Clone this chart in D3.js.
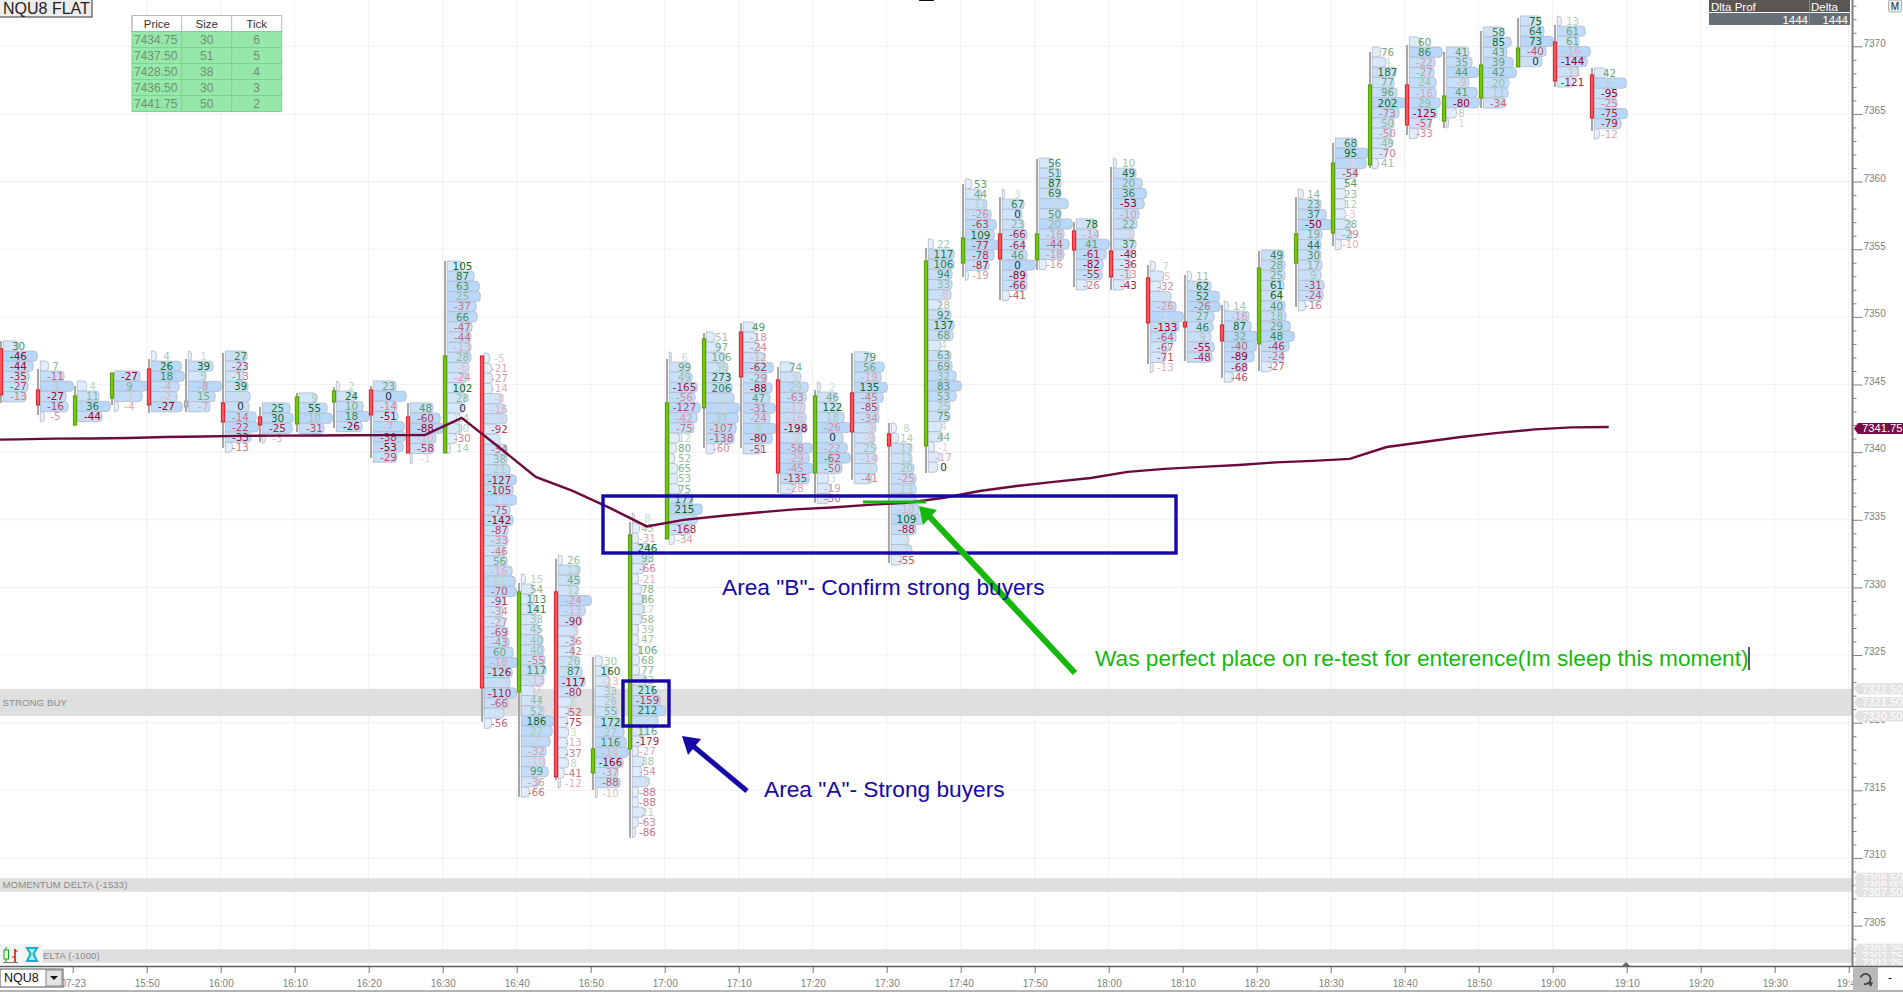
<!DOCTYPE html>
<html>
<head>
<meta charset="utf-8">
<title>NQU8 FLAT</title>
<script src="https://cdn.jsdelivr.net/npm/d3@7"></script>
<style>
html, body { margin: 0; padding: 0; background: #fff; overflow: hidden; }
svg { display: block; }
text { font-family: "Liberation Sans", Arial, sans-serif; }
</style>
</head>
<body>
<div id="chart"></div>
<script>
// price of the top edge of each bar's profile, one per 5 minute bar from 15:30
var profileTop = [7348.22,7346.74,7345.26,7346.0,7347.48,7347.48,7347.48,7343.64,7344.38,7345.26,7345.26,7343.64,7354.13,7347.33,7331.0,7332.4,7324.94,7335.51,7347.41,7348.88,7349.62,7346.67,7345.19,7347.41,7342.16,7355.76,7360.19,7359.45,7361.74,7357.24,7361.74,7354.13,7353.39,7351.18,7354.94,7359.45,7363.22,7369.95,7370.69,7369.95,7371.43,7372.24,7372.24,7368.4];

var opens  = [7347.63,7344.6,7342.0,7344.0,7346.15,7343.78,7343.64,7342.6,7342.08,7343.71,7344.6,7342.6,7339.94,7347.11,7322.28,7329.67,7316.29,7318.06,7333.58,7343.27,7348.88,7345.34,7338.46,7344.38,7341.35,7340.46,7353.98,7356.13,7354.21,7356.35,7354.87,7352.88,7349.62,7349.4,7348.0,7353.98,7356.2,7361.23,7367.14,7364.48,7366.18,7368.47,7370.32,7367.88];
var closes = [7344.23,7343.49,7344.15,7345.85,7343.49,7343.34,7342.23,7342.01,7344.08,7344.52,7342.75,7339.94,7347.11,7322.57,7329.67,7315.99,7318.06,7333.88,7343.64,7348.37,7345.56,7338.46,7344.15,7341.49,7340.46,7354.13,7355.83,7354.28,7356.13,7354.94,7352.95,7349.55,7349.25,7348.22,7353.61,7356.13,7361.37,7367.14,7364.18,7366.33,7368.62,7369.87,7367.44,7364.7];
var highs  = [7348.22,7346.15,7344.89,7345.85,7346.89,7346.89,7347.33,7343.34,7344.38,7344.82,7344.89,7343.64,7354.13,7347.11,7330.33,7332.11,7324.86,7334.84,7346.89,7348.81,7349.55,7346.3,7344.6,7347.33,7342.16,7355.09,7359.82,7358.86,7361.67,7357.01,7361.08,7353.84,7353.1,7350.88,7354.87,7358.86,7362.85,7369.58,7370.1,7369.58,7371.13,7372.09,7371.57,7368.4];
var lows   = [7343.64,7342.75,7342.23,7343.49,7342.9,7342.97,7340.31,7340.75,7341.49,7341.79,7339.57,7339.94,7339.94,7320.06,7314.52,7315.77,7315.03,7311.49,7333.58,7340.31,7340.31,7336.98,7336.25,7337.95,7331.81,7338.46,7352.95,7351.25,7353.47,7352.21,7351.99,7346.52,7346.74,7345.48,7346.0,7350.73,7355.24,7361.01,7363.44,7363.96,7365.44,7368.47,7366.99,7363.74];

// bid/ask delta per row, top row first
var deltas = [
  [30,-46,-44,-35,-27,-13],
  [7,-11,3,-27,-16,-5],
  [4,11,36,-44],
  [-27,9,-1,-4],
  [4,26,18,-4,-2,-27],
  [1,39,5,-8,15,-7],
  [27,-23,-13,39,1,0,-14,-22,-33,-13],
  [25,30,-25,-3],
  [9,55,10,-31],
  [2,24,10,18,-26],
  [23,0,-14,-51,-7,-38,-53,-29],
  [48,-60,-88,-10,-58,-1],
  [105,87,63,25,-37,66,-47,-44,-13,28,-6,-24,102,28,0,14,10,-30,14],
  [-5,-21,-27,-14,-8,-16,-3,-92,1,-54,38,21,-127,-105,1,-75,-142,-87,-33,-46,56,-16,11,-70,-91,-34,-27,-69,-43,60,-18,-126,-1,-110,-66,1,-56],
  [15,54,113,141,33,45,40,40,-55,117,-13,-7,44,52,186,27,-7,-32,-10,99,-36,-66],
  [26,13,45,12,-24,-13,-90,-3,-36,-42,26,87,-117,-80,6,-52,-75,3,-13,-37,8,-41,-12],
  [30,160,-13,33,26,55,172,27,116,-14,-166,-37,-88,-10],
  [8,45,-31,246,93,-66,-21,78,86,17,58,39,47,106,68,77,42,216,-159,212,8,116,-179,-27,38,-54,8,-88,-88,21,-63,-86],
  [6,99,49,-165,-56,-127,-42,-75,12,80,52,65,53,75,177,215,3,-168,-34],
  [51,97,106,36,273,206,12,-2,37,-107,-138,-60],
  [49,-18,-24,-12,-62,-29,-88,47,-31,-24,8,-80,-51],
  [74,9,29,-63,-17,-16,-198,-9,-58,-29,-45,-135,-28],
  [2,46,122,18,-26,0,-22,-62,-50,3,-19,-50],
  [79,56,-19,135,-45,-85,-34,-9,-9,25,-14,4,-41],
  [8,14,17,11,20,-25,13,2,-10,109,-88,2,7,-55],
  [22,117,106,94,33,-8,28,92,137,68,4,63,69,32,83,53,25,75,4,44,-1,-17,0],
  [53,44,11,-26,-63,109,-77,-78,-87,-19],
  [3,67,0,23,-66,-64,46,0,-89,-66,-41],
  [56,51,87,69,3,50,20,-16,-44,-18,-16],
  [78,-14,41,-61,-82,-55,-26],
  [10,49,20,36,-53,-10,22,-1,37,-48,-36,-13,-43],
  [7,-5,-32,2,-26,1,-133,-64,-67,-71,-13],
  [11,62,52,-26,27,46,9,-55,-48],
  [14,-16,87,32,-40,-89,-68,-46],
  [49,28,25,61,64,40,18,29,48,-46,-24,-27],
  [14,23,37,-50,19,44,30,17,9,-31,-24,-16],
  [68,95,-1,-54,54,23,12,-3,28,-29,-10],
  [76,4,187,77,96,202,-73,50,-50,49,-70,41],
  [60,86,-22,-27,24,-16,29,-125,-57,-33],
  [41,35,44,-9,41,-80,8,1],
  [58,85,43,39,42,20,11,-34],
  [75,64,73,-40,0],
  [13,61,61,-16,-144,-11,-121],
  [42,6,-95,-25,-75,-79,-12]
];

// relative row volume inside a bar, 32 = the bar's biggest row
var volumes = [
  [15,33,29,25,24,22],
  [8,23,32,25,27,4],
  [9,21,32,24],
  [25,32,27,4],
  [5,29,32,27,25,30],
  [3,24,17,32,26,21],
  [21,20,18,22,24,23,30,32,25,7],
  [27,30,29,3],
  [17,27,32,24],
  [3,18,26,32,25],
  [22,32,23,24,30,31,29,23],
  [22,29,32,25,23,2],
  [14,26,31,32,28,29,24,23,23,23,21,19,17,18,15,9,14,9,3],
  [5,7,8,8,17,20,22,13,15,22,22,25,31,28,31,25,28,23,23,20,22,27,30,31,20,18,20,23,24,28,32,27,25,31,23,19,7],
  [4,12,13,15,17,18,21,22,23,24,22,13,18,22,32,30,28,24,23,26,17,8],
  [4,21,21,19,32,26,23,19,17,16,21,23,26,21,13,10,9,10,9,9,10,6,2],
  [7,14,14,17,19,21,25,28,30,32,27,22,24,2],
  [2,7,6,17,17,11,6,9,11,11,9,6,6,7,7,7,14,21,27,32,25,14,11,6,11,9,16,6,6,12,6,3],
  [2,20,22,27,25,30,27,24,10,7,5,8,8,10,23,32,27,20,5],
  [8,13,18,21,23,25,27,32,31,29,27,8],
  [11,13,16,21,29,23,28,26,31,26,32,28,18],
  [13,20,27,25,24,25,26,21,31,28,32,28,13],
  [3,19,21,26,32,25,29,32,24,11,13,11],
  [17,29,26,32,28,24,24,21,20,21,22,22,17],
  [5,7,20,20,22,24,24,24,27,32,24,17,20,10],
  [5,25,25,23,23,22,12,22,25,24,12,22,23,27,32,27,21,21,13,14,6,11,9],
  [6,16,21,25,30,28,32,28,23,3],
  [2,21,19,21,24,22,24,32,24,24,7],
  [14,21,21,21,28,21,32,24,29,24,7],
  [19,21,32,29,26,25,11],
  [3,22,28,32,30,25,23,20,22,17,17,17,11],
  [5,13,10,20,25,32,28,25,18,15,3],
  [4,23,31,32,26,25,23,26,24],
  [4,24,26,32,31,29,22,9],
  [22,23,23,22,20,23,24,28,32,27,22,10],
  [5,22,27,32,23,22,22,23,22,25,24,7],
  [21,32,30,20,11,10,10,10,15,16,6],
  [8,13,23,21,24,32,26,21,19,19,14,6],
  [11,32,25,24,26,26,30,27,21,9],
  [22,25,31,22,30,32,10,2],
  [20,27,23,29,32,25,24,20],
  [20,23,32,25,21],
  [4,27,21,32,29,21,16],
  [11,31,22,22,32,26,5]
];

// moving average line, one value per bar plus one lead-in point at 15:25
var vwap = [7340.9,7340.94,7341.0,7341.01,7341.05,7341.12,7341.15,7341.2,7341.22,7341.23,7341.25,7341.26,7341.26,7342.53,7340.38,7338.17,7337.13,7335.88,7334.51,7334.99,7335.28,7335.54,7335.77,7335.91,7336.1,7336.25,7336.61,7337.13,7337.5,7337.8,7338.09,7338.54,7338.76,7338.91,7339.05,7339.24,7339.35,7339.5,7340.38,7340.75,7341.12,7341.42,7341.68,7341.83,7341.86];

var tableHead = ["Price","Size","Tick"];
var tablePrice = ["7434.75","7437.50","7428.50","7436.50","7441.75"];
var tableSize = [30,51,38,30,50];
var tableTick = [6,5,4,3,2];

var bands = [
  {label:"STRONG BUY", top:7322.5, bottom:7320.5, tags:["7322.50","7321.50","7320.50"]},
  {label:"MOMENTUM DELTA (-1533)", top:7308.5, bottom:7307.5, tags:["7308.50","7308.00","7307.50"]},
  {label:"ELTA (-1000)", top:7303.25, bottom:7302.25, tags:["7303.25","7302.75","7302.25"]}
];

var width = 1903, height = 994;
var plotBottom = 966;
var rowStep = 0.75;

var svg = d3.select("#chart").append("svg").attr("width", width).attr("height", height);

var xScale = d3.scaleTime()
  .domain([new Date(2018,6,23,15,50), new Date(2018,6,23,19,40)])
  .range([146.7, 1848.7]);
var yScale = d3.scaleLinear().domain([7305,7370]).range([925.6,46.3]);
var volScale = d3.scaleLinear().domain([0,32]).range([0,33]);
var volFill = d3.scaleLinear().domain([2,32]).range(["#ecf3fc","#b8d7f9"]);
var strength = d3.scalePow().exponent(0.75).domain([0,1]).range([0.16,1]);
var greenText = d3.interpolateRgb("#ffffff","#0b6a25");
var redText = d3.interpolateRgb("#ffffff","#98001e");

function barTime(i) { return d3.timeMinute.offset(new Date(2018,6,23,15,30), 5*i); }
function barX(i) { return xScale(barTime(i)) + 2.3; }

// grid
var gridTimes = d3.timeMinute.every(10).range(new Date(2018,6,23,15,50), new Date(2018,6,23,19,41));
var gridPrices = d3.range(7305,7375,5);
var grid = svg.append("g").attr("id","grid");
grid.selectAll("line.v").data(gridTimes).enter().append("line")
  .attr("class","v")
  .attr("x1",function(d){return xScale(d)}).attr("x2",function(d){return xScale(d)})
  .attr("y1",0).attr("y2",plotBottom)
  .style("stroke","#f1f1f1");
grid.selectAll("line.h").data(gridPrices).enter().append("line")
  .attr("class","h")
  .attr("x1",0).attr("x2",1852)
  .attr("y1",function(d){return yScale(d)}).attr("y2",function(d){return yScale(d)})
  .style("stroke","#f1f1f1");

// grey level bands
svg.append("g").attr("id","bands").selectAll("rect").data(bands).enter().append("rect")
  .attr("x",0).attr("width",1852)
  .attr("y",function(d){return yScale(d.top)})
  .attr("height",function(d){return yScale(d.bottom)-yScale(d.top)})
  .style("fill","#dfdfdf");

svg.append("g").attr("id","bandLabels").selectAll("text").data(bands).enter().append("text")
  .attr("x",function(d,i){return i==2 ? 43 : 2.5})
  .attr("y",function(d){return (yScale(d.top)+yScale(d.bottom))/2})
  .attr("dy","0.35em")
  .style("font-size","9.6px")
  .style("fill","#8a8a8a")
  .style("letter-spacing","0.1px")
  .text(function(d){return d.label});

// flatten rows
var rows = [];
deltas.forEach(function(list,i){
  var biggest = d3.max(list,function(v){return Math.abs(v)});
  list.forEach(function(v,j){
    rows.push({bar:i, row:j, delta:v, vol:volumes[i][j], rel:Math.abs(v)/biggest});
  });
});

function rowPath(d) {
  var x0 = barX(d.bar)+2.3;
  var y0 = yScale(profileTop[d.bar]-d.row*rowStep);
  var h = yScale(profileTop[d.bar]-(d.row+1)*rowStep)-y0;
  var w = volScale(d.vol);
  var r = Math.min(3.5,w);
  var p = d3.path();
  p.moveTo(x0,y0);
  p.lineTo(x0+w-r,y0);
  p.arcTo(x0+w,y0,x0+w,y0+r,r);
  p.lineTo(x0+w,y0+h-r);
  p.arcTo(x0+w,y0+h,x0+w-r,y0+h,r);
  p.lineTo(x0,y0+h);
  p.closePath();
  return p.toString();
}

// profile rows
svg.append("g").attr("id","profile").selectAll("path").data(rows).enter().append("path")
  .attr("d",rowPath)
  .style("fill",function(d){return volFill(d.vol)})
  .style("stroke","#b4bccb")
  .style("stroke-width",0.9);

// delta numbers
svg.append("g").attr("id","deltas").selectAll("text").data(rows).enter().append("text")
  .attr("x",function(d){return barX(d.bar)+17.5})
  .attr("y",function(d){return yScale(profileTop[d.bar]-(d.row+0.5)*rowStep)})
  .attr("dy","0.36em")
  .attr("text-anchor","middle")
  .style("font-family",'"DejaVu Sans", Verdana, sans-serif')
  .style("font-size","10.4px")
  .style("fill",function(d){
    if (d.delta==0) return "#1f2a3c";
    return d.delta>0 ? greenText(strength(d.rel)) : redText(strength(d.rel));
  })
  .text(function(d){return d.delta});

// wicks and bodies
var candles = d3.range(opens.length);
svg.append("g").attr("id","wicks").selectAll("line").data(candles).enter().append("line")
  .attr("x1",barX).attr("x2",barX)
  .attr("y1",function(i){return yScale(highs[i])})
  .attr("y2",function(i){return yScale(lows[i])})
  .style("stroke","#a6a6a6")
  .style("stroke-width",2);
svg.append("g").attr("id","bodies").selectAll("rect").data(candles).enter().append("rect")
  .attr("x",function(i){return barX(i)-1.6})
  .attr("width",3.2)
  .attr("y",function(i){return yScale(Math.max(opens[i],closes[i]))})
  .attr("height",function(i){return Math.abs(yScale(opens[i])-yScale(closes[i]))})
  .style("fill",function(i){ return i==5 ? "#c4c4c4" : closes[i]>opens[i] ? "#76c800" : "#ff5555"})
  .style("stroke",function(i){ return i==5 ? "#a0a0a0" : closes[i]>opens[i] ? "#4f9a08" : "#d81c30"})
  .style("stroke-width",1);

// average line
var avgLine = d3.line()
  .x(function(d,i){return xScale(barTime(i-1))+19})
  .y(function(d){return yScale(d)});
svg.append("path").attr("id","vwap")
  .attr("d",avgLine(vwap))
  .attr("fill","none")
  .attr("stroke","#6c0a40")
  .attr("stroke-width",2.4);

// annotations
var navy = "#1508a6", grn = "#16b80e";
svg.append("rect").attr("x",603).attr("y",496).attr("width",573).attr("height",57)
  .style("fill","none").style("stroke",navy).style("stroke-width",3.4);
svg.append("rect").attr("x",623).attr("y",681).attr("width",46).attr("height",45)
  .style("fill","none").style("stroke",navy).style("stroke-width",3.4);
svg.append("line").attr("x1",747).attr("y1",791).attr("x2",693).attr("y2",746)
  .style("stroke",navy).style("stroke-width",5);
svg.append("path").attr("d",d3.line()([[682,736],[701,739],[688,755]])+"Z").style("fill",navy);
svg.append("line").attr("x1",1075).attr("y1",673).attr("x2",928).attr("y2",515)
  .style("stroke",grn).style("stroke-width",6);
svg.append("path").attr("d",d3.line()([[919,506],[937,510],[923,525]])+"Z").style("fill",grn);
svg.append("line").attr("x1",863).attr("y1",502).attr("x2",926).attr("y2",502)
  .style("stroke",grn).style("stroke-width",3);
var notes = [
  {t:'Area "B"- Confirm strong buyers', x:722, y:595, c:navy},
  {t:'Area "A"- Strong buyers', x:764, y:797, c:navy},
  {t:'Was perfect place on re-test for enterence(Im sleep this moment)', x:1095, y:666, c:grn}
];
svg.append("g").attr("id","notes").selectAll("text").data(notes).enter().append("text")
  .attr("x",function(d){return d.x}).attr("y",function(d){return d.y})
  .style("font-size","22.7px")
  .style("fill",function(d){return d.c})
  .text(function(d){return d.t});
svg.append("line").attr("x1",1749).attr("x2",1749).attr("y1",647).attr("y2",670)
  .style("stroke","#111").style("stroke-width",1.4);

// price axis
svg.append("rect").attr("x",1853).attr("y",0).attr("width",50).attr("height",plotBottom).style("fill","#fff");
var yAxis = d3.axisRight(yScale)
  .tickValues(d3.range(7302,7375))
  .tickSize(4)
  .tickFormat(function(d){return d%5==0 ? d : ""});
var yAxisG = svg.append("g").attr("id","yAxisG")
  .attr("transform","translate(1852.5,0)")
  .call(yAxis);
yAxisG.select(".domain").remove();
yAxisG.selectAll("line").style("stroke","#808080")
  .attr("x2",function(d){return d%5==0 ? 10 : 4});
yAxisG.selectAll("text")
  .attr("x",11).attr("dy","-0.02em")
  .style("font-size","10px").style("fill","#808080")
  .style("font-family",'"Liberation Sans", Arial, sans-serif');
svg.append("line").attr("x1",1852.5).attr("x2",1852.5).attr("y1",0).attr("y2",plotBottom)
  .style("stroke","#808080").style("stroke-width",2);

// price tags
function tagPath(y) {
  return d3.line()([[1854,y],[1858,y-5.5],[1903,y-5.5],[1903,y+5.5],[1858,y+5.5]])+"Z";
}
var tags = [];
bands.forEach(function(b){ b.tags.forEach(function(t){ tags.push({t:t, c:"#e2e2e2"}) }) });
tags.push({t:"7341.75", c:"#7a0c45"});
var tagG = svg.append("g").attr("id","tags").selectAll("g").data(tags).enter().append("g");
tagG.append("path").attr("d",function(d){return tagPath(yScale(+d.t))}).style("fill",function(d){return d.c});
tagG.append("text")
  .attr("x",1862).attr("y",function(d){return yScale(+d.t)}).attr("dy","0.36em")
  .style("font-size","11.2px").style("fill","#ffffff")
  .text(function(d){return d.t});

// bottom strip and time axis
svg.append("rect").attr("x",0).attr("y",plotBottom).attr("width",width).attr("height",height-plotBottom).style("fill","#ffffff");
var xAxis = d3.axisBottom(xScale)
  .tickValues(d3.timeMinute.every(10).range(new Date(2018,6,23,15,40), new Date(2018,6,23,19,41)))
  .tickSize(7)
  .tickFormat(function(d){return d.getHours()==15 && d.getMinutes()==40 ? "07-23" : d3.timeFormat("%H:%M")(d)});
var xAxisG = svg.append("g").attr("id","xAxisG").attr("transform","translate(0,"+plotBottom+")").call(xAxis);
xAxisG.select(".domain").remove();
xAxisG.selectAll("line").style("stroke","#777");
xAxisG.selectAll("text").attr("y",14)
  .style("font-size","10px").style("fill","#808080")
  .style("font-family",'"Liberation Sans", Arial, sans-serif');
svg.append("line").attr("x1",0).attr("x2",width).attr("y1",plotBottom+.5).attr("y2",plotBottom+.5)
  .style("stroke","#5c5c5c").style("stroke-width",1.6);
svg.append("line").attr("x1",0).attr("x2",width).attr("y1",991).attr("y2",991)
  .style("stroke","#9a9a9a").style("stroke-width",1.6);
svg.append("path").attr("d",d3.line()([[1622,966],[1626,962],[1630,966]])+"Z").style("fill","#666");

// instrument combo box
svg.append("rect").attr("x",0).attr("y",969).attr("width",63).attr("height",18).style("fill","#fff").style("stroke","#555");
svg.append("text").attr("x",4).attr("y",982).style("font-size","12.5px").style("fill","#111").text("NQU8");
svg.append("rect").attr("x",46).attr("y",970).attr("width",16).attr("height",16).style("fill","#e4e4e4").style("stroke","#888");
svg.append("path").attr("d",d3.line()([[50,976],[58,976],[54,980]])+"Z").style("fill","#111");

// reset and minus buttons
svg.append("rect").attr("x",1853).attr("y",967).attr("width",25).attr("height",24).style("fill","#b9b9b9");
svg.append("path")
  .attr("d",d3.arc()({innerRadius:4.2,outerRadius:6,startAngle:-0.4*Math.PI,endAngle:1.1*Math.PI}))
  .attr("transform","translate(1865.5,979)")
  .style("fill","#444");
svg.append("path").attr("d",d3.line()([[1867,982],[1873,982],[1871,987]])+"Z").style("fill","#444");
svg.append("text").attr("x",1890).attr("y",982).attr("text-anchor","middle").style("font-size","12px").style("fill","#111").text("-");

// chart type icons, the band label runs under them
svg.append("rect").attr("x",0).attr("y",944).attr("width",43).attr("height",20).style("fill","#f4f4f4");
svg.append("line").attr("x1",6).attr("x2",6).attr("y1",947).attr("y2",962).style("stroke","#11a011");
svg.append("rect").attr("x",4).attr("y",950).attr("width",4.5).attr("height",9).style("fill","#eaffea").style("stroke","#11a011");
svg.append("line").attr("x1",15).attr("x2",15).attr("y1",949).attr("y2",962).style("stroke","#e01010").style("stroke-width",1.6);
svg.append("line").attr("x1",15).attr("x2",18).attr("y1",951).attr("y2",951).style("stroke","#e01010");
svg.append("line").attr("x1",12).attr("x2",15).attr("y1",957).attr("y2",957).style("stroke","#e01010");
svg.append("line").attr("x1",3).attr("x2",18).attr("y1",962.5).attr("y2",962.5).style("stroke","#777");
svg.append("path").attr("d",d3.line()([[27,948],[37,948],[33.5,954],[37,961],[27,961],[30.5,954]])+"Z")
  .style("fill","#a9ecf7").style("stroke","#16b0cf").style("stroke-width",2);

// title box
svg.append("rect").attr("x",-1).attr("y",-1).attr("width",93).attr("height",18).style("fill","#ededed").style("stroke","#333");
svg.append("text").attr("x",3).attr("y",14).style("font-size","16px").style("fill","#222").text("NQU8 FLAT");
svg.append("line").attr("x1",919).attr("x2",934).attr("y1",0.5).attr("y2",0.5).style("stroke","#111");

// ticks table, top left
var colX = [132,181.7,231.7,281.7];
var rowH = 16;
var table = svg.append("g").attr("id","ticksTable");
table.append("rect").attr("x",colX[0]).attr("y",15.5).attr("width",colX[3]-colX[0]).attr("height",rowH)
  .style("fill","#fff").style("stroke","#b8b8b8");
tableHead.forEach(function(h,c){
  table.append("text").attr("x",(colX[c]+colX[c+1])/2).attr("y",27.5).attr("text-anchor","middle")
    .style("font-size","11.5px").style("fill","#333").text(h);
  table.append("line").attr("x1",colX[c]).attr("x2",colX[c]).attr("y1",15.5).attr("y2",31.5).style("stroke","#b8b8b8");
});
var cellRows = table.selectAll("g").data(tablePrice).enter().append("g")
  .attr("transform",function(d,i){return "translate(0,"+(31.5+i*rowH)+")"});
cellRows.append("rect").attr("x",colX[0]).attr("width",colX[3]-colX[0]).attr("height",rowH)
  .style("fill","#96e8a8").style("stroke","#7ed094");
cellRows.each(function(d,i){
  var g = d3.select(this);
  [1,2].forEach(function(c){
    g.append("line").attr("x1",colX[c]).attr("x2",colX[c]).attr("y1",0).attr("y2",rowH).style("stroke","#7ed094");
  });
  g.append("text").attr("x",colX[0]+2).attr("y",12).style("font-size","12px").style("fill","#6f8f77").text(tablePrice[i]);
  g.append("text").attr("x",(colX[1]+colX[2])/2).attr("y",12).attr("text-anchor","middle").style("font-size","12px").style("fill","#6f8f77").text(tableSize[i]);
  g.append("text").attr("x",(colX[2]+colX[3])/2).attr("y",12).attr("text-anchor","middle").style("font-size","12px").style("fill","#6f8f77").text(tableTick[i]);
});

// delta summary, top right
svg.append("rect").attr("x",1709).attr("y",0).attr("width",141).attr("height",12).style("fill","#5a5654");
svg.append("rect").attr("x",1709).attr("y",13).attr("width",141).attr("height",12).style("fill","#667079");
svg.append("line").attr("x1",1809.5).attr("x2",1809.5).attr("y1",0).attr("y2",25).style("stroke","#8c8c8c");
svg.append("text").attr("x",1711).attr("y",10.5).style("font-size","11.5px").style("fill","#fff").text("Dlta Prof");
svg.append("text").attr("x",1811).attr("y",10.5).style("font-size","11.5px").style("fill","#fff").text("Delta");
svg.append("text").attr("x",1808).attr("y",23.5).attr("text-anchor","end").style("font-size","11.5px").style("fill","#fff").text("1444");
svg.append("text").attr("x",1848).attr("y",23.5).attr("text-anchor","end").style("font-size","11.5px").style("fill","#fff").text("1444");
svg.append("rect").attr("x",1888.5).attr("y",0).attr("width",13).attr("height",12).attr("rx",2).style("fill","#efefef").style("stroke","#aaa");
svg.append("text").attr("x",1895).attr("y",9.5).attr("text-anchor","middle").style("font-size","10px").style("fill","#222").text("M");
</script>
</body>
</html>
